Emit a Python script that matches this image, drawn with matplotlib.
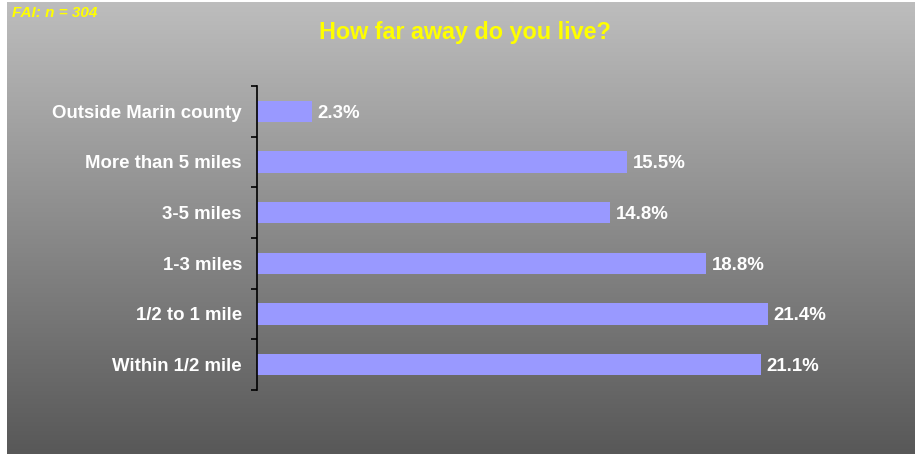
import numpy as np
import matplotlib.pyplot as plt

plt.rcParams["font.family"] = ["Liberation Sans", "DejaVu Sans"]

# data (top to bottom as shown)
categories = ["Outside Marin county", "More than 5 miles", "3-5 miles",
              "1-3 miles", "1/2 to 1 mile", "Within 1/2 mile"]
percents = [2.3, 15.5, 14.8, 18.8, 21.4, 21.1]
title = "How far away do you live?"
note = "FAI: n = 304"

W, H = 915, 454
fig = plt.figure(figsize=(W / 100, H / 100), dpi=100, facecolor="white")

# gray gradient background
bg = fig.add_axes([7 / W, 0, (914 - 7) / W, 452 / H])
grad = np.linspace(189, 88, 256)[:, None] / 255.0
bg.imshow(np.dstack([grad, grad, grad]), aspect="auto", extent=[0, 1, 0, 1])
bg.set_axis_off()

# bar axes
x0, x1 = 257, 257 + 25 * 23.87
y_top, y_bot = 86, 390
ax = fig.add_axes([x0 / W, (H - y_bot) / H, (x1 - x0) / W, (y_bot - y_top) / H])
ax.patch.set_alpha(0)

n = len(categories)
ypos = np.arange(n)[::-1]
ax.barh(ypos, percents, height=0.42, color="#9999FF", edgecolor="none")
ax.set_xlim(0, 25)
ax.set_ylim(-0.5, n - 0.5)

for y, v in zip(ypos, percents):
    ax.annotate(f"{v:.1f}%", (v, y), xytext=(4.3, 0), textcoords="offset points",
                va="center_baseline", ha="left", color="white", fontsize=13.4,
                fontweight="bold")

for s in ["top", "right", "bottom"]:
    ax.spines[s].set_visible(False)
ax.spines["left"].set_color("black")
ax.spines["left"].set_linewidth(1.2)
ax.set_xticks([])
ax.set_yticks(ypos)
ax.set_yticklabels(categories, color="white", fontsize=13.4, fontweight="bold")
ax.tick_params(axis="y", which="major", length=0, pad=10.8)
ax.set_yticks(np.arange(-0.5, n, 1.0), minor=True)
ax.tick_params(axis="y", which="minor", length=6 * 0.72, width=1.2, color="black")

fig.text(465 / W, 1 - 32 / H, title, ha="center", va="center", color="#FFFF00",
         fontsize=16.8, fontweight="bold")
fig.text(12 / W, 1 - 13 / H, note, ha="left", va="center", color="#FFFF00",
         fontsize=11, fontweight="bold", style="italic")

fig.savefig("out.png", dpi=100)
